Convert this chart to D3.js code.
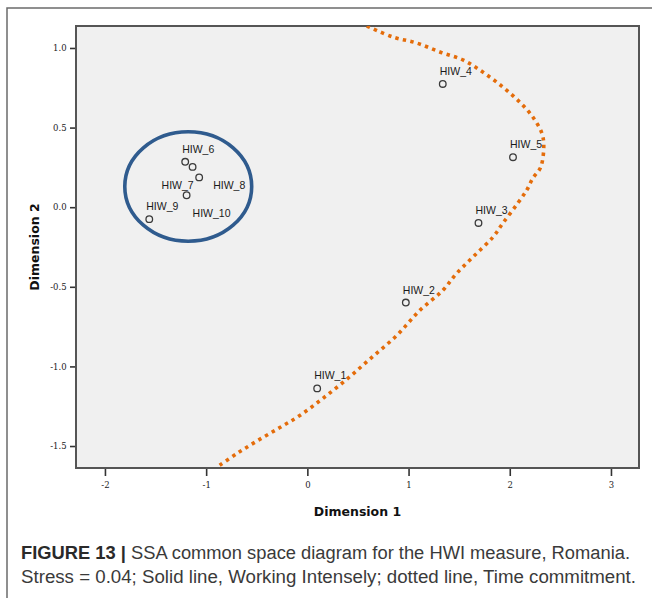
<!DOCTYPE html>
<html>
<head>
<meta charset="utf-8">
<script src="https://cdn.jsdelivr.net/npm/d3@7"></script>
<style>
  html, body { margin: 0; padding: 0; background: #fff; }
  svg { display: block; }
</style>
</head>
<body>
<svg id="chart" width="652" height="598"></svg>
<script>
// SSA common space coordinates for the HWI items
const itemNames = ["HIW_1", "HIW_2", "HIW_3", "HIW_4", "HIW_5", "HIW_6", "HIW_7", "HIW_8", "HIW_9", "HIW_10"];
const dimension1 = [0.097, 0.973, 1.691, 1.338, 2.032, -1.207, -1.134, -1.069, -1.562, -1.193];
const dimension2 = [-1.138, -0.599, -0.099, 0.774, 0.314, 0.285, 0.253, 0.187, -0.075, 0.075];

// Axis ticks
const xTicks = [-2, -1, 0, 1, 2, 3];
const yTicks = [1.0, 0.5, 0.0, -0.5, -1.0, -1.5];

// Dotted boundary ("Time commitment"), in dimension units
const boundaryD1 = [0.588, 0.844, 1.081, 1.309, 1.536, 1.733, 1.931, 2.099, 2.228, 2.317, 2.336, 2.306, 2.228, 2.168, 2.079, 1.931, 1.832, 1.654, 1.476, 1.338, 1.111, 0.884, 0.637, 0.400, 0.153, -0.074, -0.272, -0.489, -0.696, -0.884];
const boundaryD2 = [1.138, 1.069, 1.031, 0.975, 0.925, 0.849, 0.755, 0.660, 0.566, 0.465, 0.390, 0.252, 0.182, 0.107, 0.025, -0.101, -0.189, -0.302, -0.415, -0.522, -0.648, -0.805, -0.943, -1.075, -1.201, -1.308, -1.384, -1.465, -1.547, -1.629];

// Solid ellipse ("Working Intensely"): centre and radii in dimension units
const clusterCentre = [-1.177, 0.130];
const clusterRadii = [0.627, 0.344];

// Label placement tweaks for the crowded cluster (pixels)
const labelShift = {
  "HIW_7": [-31, 22],
  "HIW_8": [14, 12],
  "HIW_10": [6, 22]
};

const svg = d3.select("#chart");

// outer figure frame
svg.append("path")
  .attr("d", "M7,598 V8 H652")
  .attr("fill", "none")
  .attr("stroke", "#6b6b6b")
  .attr("stroke-width", 1.5);

const plot = { left: 76, top: 26, right: 639, bottom: 468 };

const x = d3.scaleLinear().domain([-2.286, 3.277]).range([plot.left, plot.right]);
const y = d3.scaleLinear().domain([-1.638, 1.138]).range([plot.bottom, plot.top]);

svg.append("rect")
  .attr("x", plot.left).attr("y", plot.top)
  .attr("width", plot.right - plot.left).attr("height", plot.bottom - plot.top)
  .attr("fill", "#f0f0f0");

svg.append("clipPath").attr("id", "plotClip")
  .append("rect")
  .attr("x", plot.left).attr("y", plot.top)
  .attr("width", plot.right - plot.left).attr("height", plot.bottom - plot.top);

// tick labels use a plain hyphen for negatives
const fmtX = d => String(d);
const fmtY = d => d.toFixed(1);

const xAxis = svg.append("g")
  .attr("transform", `translate(0,${plot.bottom})`)
  .call(d3.axisBottom(x).tickValues(xTicks).tickFormat(fmtX).tickSizeInner(8).tickSizeOuter(0));
const yAxis = svg.append("g")
  .attr("transform", `translate(${plot.left},0)`)
  .call(d3.axisLeft(y).tickValues(yTicks).tickFormat(fmtY).tickSizeInner(6).tickSizeOuter(0));

[xAxis, yAxis].forEach(g => {
  g.select(".domain").remove();
  g.selectAll(".tick line").attr("stroke", "#333").attr("stroke-width", 1.6);
  g.selectAll(".tick text")
    .attr("font-family", "'DejaVu Serif', serif")
    .attr("font-size", 8.5)
    .attr("fill", "#222");
});
xAxis.selectAll(".tick text").attr("dy", "1.1em");
yAxis.selectAll(".tick text").attr("dx", "-0.05em");

// plot border
svg.append("rect")
  .attr("x", plot.left).attr("y", plot.top)
  .attr("width", plot.right - plot.left).attr("height", plot.bottom - plot.top)
  .attr("fill", "none")
  .attr("stroke", "#555")
  .attr("stroke-width", 2);

// axis titles
svg.append("text")
  .attr("x", (plot.left + plot.right) / 2).attr("y", 516)
  .attr("text-anchor", "middle")
  .attr("font-family", "'DejaVu Sans', sans-serif")
  .attr("font-weight", "bold")
  .attr("font-size", 12.5)
  .attr("fill", "#111")
  .text("Dimension 1");

svg.append("text")
  .attr("transform", `translate(39,${(plot.top + plot.bottom) / 2}) rotate(-90)`)
  .attr("text-anchor", "middle")
  .attr("font-family", "'DejaVu Sans', sans-serif")
  .attr("font-weight", "bold")
  .attr("font-size", 12.5)
  .attr("fill", "#111")
  .text("Dimension 2");

const layer = svg.append("g").attr("clip-path", "url(#plotClip)");

// dotted boundary
const boundary = boundaryD1.map((d, i) => [d, boundaryD2[i]]);
layer.append("path")
  .datum(boundary)
  .attr("d", d3.line().x(d => x(d[0])).y(d => y(d[1])).curve(d3.curveCatmullRom.alpha(0.5)))
  .attr("fill", "none")
  .attr("stroke", "#e46c0a")
  .attr("stroke-width", 3.6)
  .attr("stroke-dasharray", "3.4 4.3");

// solid ellipse around the cluster
layer.append("ellipse")
  .attr("cx", x(clusterCentre[0]))
  .attr("cy", y(clusterCentre[1]))
  .attr("rx", x(clusterCentre[0] + clusterRadii[0]) - x(clusterCentre[0]))
  .attr("ry", y(clusterCentre[1]) - y(clusterCentre[1] + clusterRadii[1]))
  .attr("fill", "none")
  .attr("stroke", "#2f5b8e")
  .attr("stroke-width", 3.6);

// points and labels
const items = itemNames.map((name, i) => ({ name, d1: dimension1[i], d2: dimension2[i] }));

layer.selectAll("circle.pt")
  .data(items)
  .join("circle")
  .attr("class", "pt")
  .attr("cx", d => x(d.d1))
  .attr("cy", d => y(d.d2))
  .attr("r", 3.3)
  .attr("fill", "none")
  .attr("stroke", "#3a3a3a")
  .attr("stroke-width", 1.3);

layer.selectAll("text.lbl")
  .data(items)
  .join("text")
  .attr("class", "lbl")
  .attr("x", d => x(d.d1) + (labelShift[d.name] ? labelShift[d.name][0] : -3))
  .attr("y", d => y(d.d2) + (labelShift[d.name] ? labelShift[d.name][1] : -9))
  .attr("font-family", "'Liberation Sans', Arial, sans-serif")
  .attr("font-size", 10.5)
  .attr("fill", "#1a1a1a")
  .text(d => d.name);

// caption
const caption = svg.append("g")
  .attr("font-family", "'Liberation Sans', Arial, sans-serif")
  .attr("font-size", 18)
  .attr("fill", "#3a3a3a");

const line1 = caption.append("text").attr("x", 21).attr("y", 559)
  .attr("textLength", 609).attr("lengthAdjust", "spacingAndGlyphs");
line1.append("tspan").attr("font-weight", "bold").attr("fill", "#2a2a2a").text("FIGURE 13 |");
line1.append("tspan").text(" SSA common space diagram for the HWI measure, Romania.");

caption.append("text").attr("x", 21).attr("y", 583)
  .attr("textLength", 615).attr("lengthAdjust", "spacingAndGlyphs")
  .text("Stress = 0.04; Solid line, Working Intensely; dotted line, Time commitment.");
</script>
</body>
</html>
